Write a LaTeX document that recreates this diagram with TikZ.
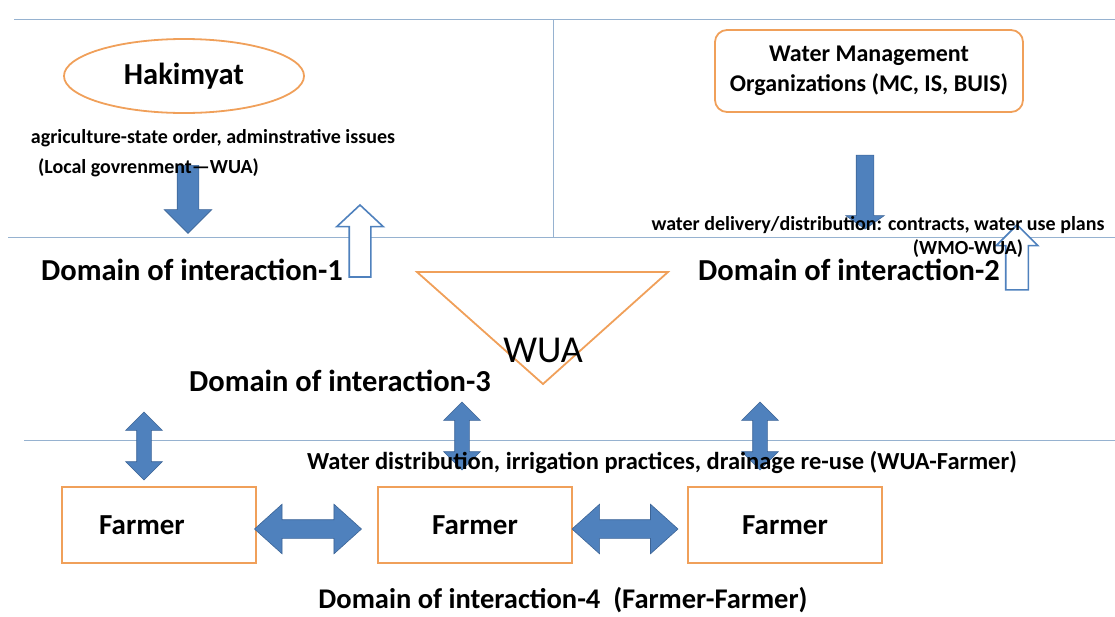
\documentclass[tikz,border=0pt]{standalone}
\usepackage{fontspec}
\setmainfont{Carlito}
\usepackage{tikz}
\usetikzlibrary{shapes.geometric,shapes.arrows,positioning}

\definecolor{wuablue}{RGB}{79,129,189}
\definecolor{wuaedge}{RGB}{60,100,150}
\definecolor{wuaorange}{RGB}{240,160,90}
\definecolor{wualine}{RGB}{150,178,208}

\tikzstyle{domline}=[draw=wualine,line width=1pt]
\tikzstyle{org}=[draw=wuaorange,line width=1.8pt,align=center,font=\bfseries\fontsize{24}{30}\selectfont]
\tikzstyle{farmer}=[org,rectangle,minimum width=194pt,minimum height=76pt,font=\bfseries\fontsize{29}{34}\selectfont]
\tikzstyle{domlabel}=[font=\bfseries\fontsize{30.5}{36}\selectfont,inner sep=0pt]
\tikzstyle{issue}=[font=\bfseries\fontsize{20}{24}\selectfont,inner sep=0pt,align=center]
\tikzstyle{fat}=[fill=wuablue,draw=wuaedge,line width=.6pt,inner sep=0pt]
\tikzstyle{hollow}=[fill=white,draw=wuablue,line width=1.6pt,inner sep=0pt]

\begin{document}
\begin{tikzpicture}[x=1pt,y=-1pt]
\useasboundingbox (0,0) rectangle (1115,616);

% domain borders
\draw[domline] (14,19) -- (1115,19);
\draw[domline] (553,19) -- (553,237);
\draw[domline] (8,237) -- (1115,237);
\draw[domline] (24,440) -- (1115,440);

% actors
\node[org,ellipse,minimum width=240pt,minimum height=74pt,font=\bfseries\fontsize{30.5}{36}\selectfont] (hak) at (184,76) {Hakimyat};
\node[org,rectangle,rounded corners=12pt,minimum width=308pt,minimum height=82pt] (wmo) at (869,71) {Water Management\\Organizations (MC, IS, BUIS)};

\coordinate (tl) at (417,272);
\coordinate (tr) at (668,272);
\coordinate (tb) at (543,384);
\draw[draw=wuaorange,line width=1.8pt,line join=miter] (tl) -- (tr) -- (tb) -- cycle;
\node[font=\fontsize{38}{42}\selectfont,inner sep=0pt] (wua) at (543,350) {WUA};

\node[farmer] (f1) at (159,525) {Farmer\hspace*{34pt}};
\node[farmer] (f2) at (475,525) {Farmer};
\node[farmer] (f3) at (785,525) {Farmer};

% block arrows
\node[fat,single arrow,rotate=270,minimum height=68pt,inner sep=10.5pt,single arrow head extend=13pt] (hakdown) at (188,194) {};
\node[hollow,single arrow,rotate=90,minimum height=72pt,inner sep=10pt,single arrow head extend=12.5pt,single arrow tip angle=94] (hakup) at (360,246) {};
\node[fat,single arrow,rotate=270,minimum height=74pt,inner sep=8.5pt,single arrow head extend=10.5pt,single arrow tip angle=110] (wmodown) at (865,189) {};
\node[hollow,single arrow,rotate=90,minimum height=65pt,inner sep=10.5pt,single arrow head extend=9.5pt] (wmoup) at (1017,263) {};

\node[fat,double arrow,rotate=90,minimum height=68pt,inner sep=7pt,double arrow head extend=11pt] (v1) at (144,446) {};
\node[fat,double arrow,rotate=90,minimum height=68pt,inner sep=7pt,double arrow head extend=11pt] (v2) at (462,436) {};
\node[fat,double arrow,rotate=90,minimum height=68pt,inner sep=7pt,double arrow head extend=11pt] (v3) at (760,436) {};

\node[fat,double arrow,minimum height=107pt,inner sep=9pt,double arrow head extend=15.5pt,double arrow tip angle=84] (h12) at (308,529) {};
\node[fat,double arrow,minimum height=106pt,inner sep=9pt,double arrow head extend=15.5pt,double arrow tip angle=84] (h23) at (625,529) {};

% issues and domains
\node[issue] (agri) at (213,138) {agriculture-state order, adminstrative issues};
\node[issue,anchor=west] (local) at (38,168) {(Local govrenment---WUA)};
\node[issue] (deliv) at (878,225) {water delivery/distribution: contracts, water use plans};
\node[issue] (wmowua) at (968,249) {(WMO-WUA)};
\node[issue,font=\bfseries\fontsize{24.5}{28}\selectfont] (distr) at (662,462) {Water distribution, irrigation practices, drainage re-use (WUA-Farmer)};

\node[domlabel] (dom1) at (192,270) {Domain of interaction-1};
\node[domlabel] (dom2) at (849,270) {Domain of interaction-2};
\node[domlabel] (dom3) at (340,381) {Domain of interaction-3};
\node[domlabel,font=\bfseries\fontsize{28.5}{34}\selectfont] (dom4) at (563,600) {Domain of interaction-4\ \ (Farmer-Farmer)};
\end{tikzpicture}
\end{document}
